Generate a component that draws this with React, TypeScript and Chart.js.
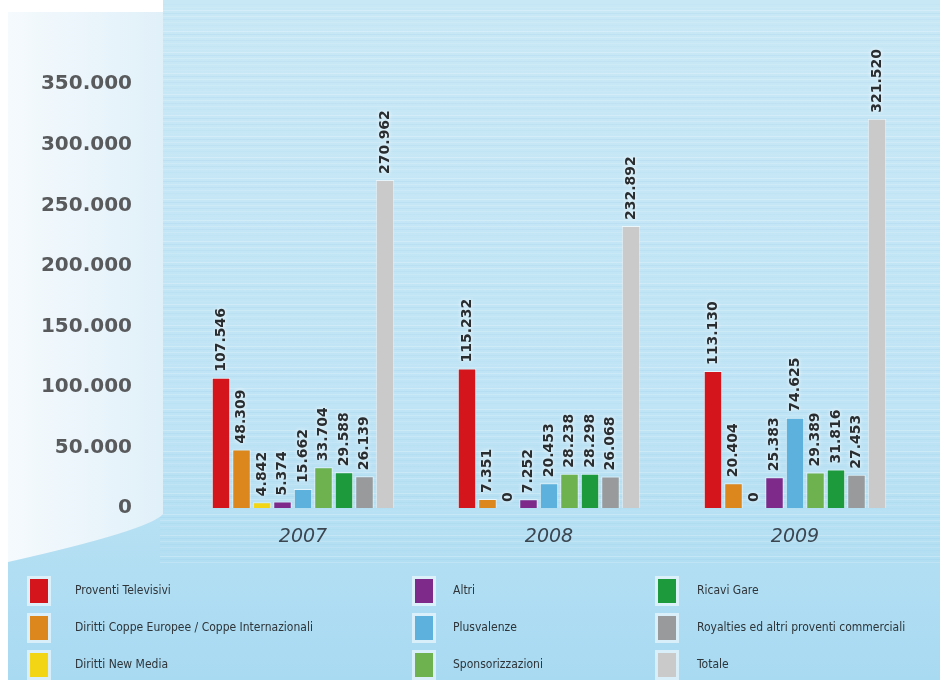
import React, { useEffect, useRef } from "react";
import { Chart, registerables } from "chart.js";

Chart.register(...registerables);

const categories = ["2007", "2008", "2009"];
const seriesNames = [
  "Proventi Televisivi",
  "Diritti Coppe Europee / Coppe Internazionali",
  "Diritti New Media",
  "Altri",
  "Plusvalenze",
  "Sponsorizzazioni",
  "Ricavi Gare",
  "Royalties ed altri proventi commerciali",
  "Totale",
];
const seriesColors = [
  "#d4161c",
  "#dc861e",
  "#f2d615",
  "#7d2a8a",
  "#5cb2dc",
  "#6db24e",
  "#1d9a3c",
  "#999a9c",
  "#cacaca",
];
const proventiTelevisivi = [107546, 115232, 113130];
const dirittiCoppe = [48309, 7351, 20404];
const dirittiNewMedia = [4842, 0, 0];
const altri = [5374, 7252, 25383];
const plusvalenze = [15662, 20453, 74625];
const sponsorizzazioni = [33704, 28238, 29389];
const ricaviGare = [29588, 28298, 31816];
const royalties = [26139, 26068, 27453];
const totale = [270962, 232892, 321520];
const seriesValues = [
  proventiTelevisivi,
  dirittiCoppe,
  dirittiNewMedia,
  altri,
  plusvalenze,
  sponsorizzazioni,
  ricaviGare,
  royalties,
  totale,
];
const yTickValues = [0, 50000, 100000, 150000, 200000, 250000, 300000, 350000];

const fmt = (v: number) =>
  String(Math.round(v)).replace(/\B(?=(\d{3})+(?!\d))/g, ".");

const bgPlugin = {
  id: "bg",
  beforeDraw(chart: any) {
    const { ctx, width, height } = chart;
    ctx.save();
    ctx.fillStyle = "#ffffff";
    ctx.fillRect(0, 0, width, height);
    const g = ctx.createLinearGradient(0, 0, 0, 680);
    g.addColorStop(0, "#c9e8f6");
    g.addColorStop(0.6, "#bfe4f5");
    g.addColorStop(0.8, "#b4dff3");
    g.addColorStop(1, "#a8daf2");
    ctx.fillStyle = g;
    ctx.fillRect(8, 0, width - 11, 680);
    for (let y = 4; y < 565; y += 3) {
      const k = (y * 37) % 7;
      ctx.fillStyle =
        k % 2 === 0
          ? `rgba(255,255,255,${0.06 + 0.03 * k})`
          : `rgba(110,175,215,${0.03 + 0.015 * k})`;
      ctx.fillRect(160, y, width - 163, 1);
    }
    const lg = ctx.createLinearGradient(8, 0, 165, 0);
    lg.addColorStop(0, "#f5fafd");
    lg.addColorStop(1, "#e0f0f9");
    ctx.fillStyle = lg;
    ctx.beginPath();
    ctx.moveTo(8, 12);
    ctx.lineTo(163, 12);
    ctx.lineTo(163, 514);
    ctx.quadraticCurveTo(150, 530, 8, 562);
    ctx.closePath();
    ctx.fill();
    ctx.fillStyle = "#ffffff";
    ctx.fillRect(0, 0, 163, 12);
    ctx.restore();
  },
};

const labelPlugin = {
  id: "vlabels",
  afterDatasetsDraw(chart: any) {
    const { ctx } = chart;
    ctx.save();
    ctx.font = "bold 14px 'DejaVu Sans', sans-serif";
    ctx.textAlign = "left";
    ctx.textBaseline = "middle";
    chart.data.datasets.forEach((ds: any, i: number) => {
      const meta = chart.getDatasetMeta(i);
      meta.data.forEach((el: any, j: number) => {
        const v = ds.data[j];
        ctx.save();
        ctx.translate(el.x, el.y - 6);
        ctx.rotate(-Math.PI / 2);
        ctx.shadowColor = "rgba(255,255,255,0.95)";
        ctx.shadowBlur = 4;
        ctx.fillStyle = "#2a2d30";
        ctx.fillText(fmt(v), 0, 0);
        ctx.restore();
      });
    });
    ctx.restore();
  },
};

const legendPlugin = {
  id: "customLegend",
  afterDraw(chart: any) {
    const { ctx } = chart;
    const swX = [30, 415, 658];
    const txX = [75, 453, 697];
    const rowY = [591, 628, 665];
    ctx.save();
    chart.data.datasets.forEach((ds: any, i: number) => {
      const col = Math.floor(i / 3);
      const row = i % 3;
      const x = swX[col];
      const y = rowY[row];
      ctx.fillStyle = "rgba(255,255,255,0.55)";
      ctx.fillRect(x - 3, y - 15, 24, 30);
      ctx.fillStyle = ds.backgroundColor;
      ctx.fillRect(x, y - 12, 18, 24);
      ctx.fillStyle = "#2e3438";
      ctx.font = "12px 'Liberation Sans Narrow', 'DejaVu Sans Condensed', sans-serif";
      ctx.textAlign = "left";
      ctx.textBaseline = "middle";
      ctx.fillText(ds.label, txX[col], y);
    });
    ctx.restore();
  },
};

export default function App() {
  const ref = useRef<HTMLCanvasElement | null>(null);
  useEffect(() => {
    if (!ref.current) return;
    const chart = new Chart(ref.current, {
      type: "bar",
      data: {
        labels: categories,
        datasets: seriesNames.map((name, i) => ({
          label: name,
          data: seriesValues[i],
          backgroundColor: seriesColors[i],
          borderColor: "rgba(255,255,255,0.6)",
          borderWidth: 1,
          categoryPercentage: 0.75,
          barPercentage: 0.9,
        })),
      },
      options: {
        animation: false,
        responsive: true,
        maintainAspectRatio: false,
        layout: { padding: { top: 58, bottom: 138, left: 0, right: 25 } },
        plugins: {
          legend: { display: false },
          tooltip: { enabled: false },
        },
        scales: {
          x: {
            grid: { display: false, drawTicks: false },
            border: { display: false },
            ticks: {
              padding: 18,
              color: "#3b4650",
              font: { family: "'DejaVu Sans', sans-serif", size: 19, style: "italic" },
            },
            afterFit(scale: any) {
              scale.height = 40;
            },
          },
          y: {
            min: 0,
            max: 370000,
            grid: { display: false, drawTicks: false },
            border: { display: false },
            afterBuildTicks(scale: any) {
              scale.ticks = yTickValues.map((v) => ({ value: v }));
            },
            ticks: {
              padding: 48,
              color: "#585a5c",
              font: { family: "'DejaVu Sans', sans-serif", size: 20, weight: "bold" },
              callback: (v: any) => fmt(Number(v)),
            },
            afterFit(scale: any) {
              scale.width = 180;
            },
          },
        },
      },
      plugins: [bgPlugin, labelPlugin, legendPlugin],
    });
    return () => chart.destroy();
  }, []);
  return (
    <div style={{ position: "fixed", left: 0, top: 0, width: 943, height: 686 }}>
      <canvas ref={ref} />
    </div>
  );
}
